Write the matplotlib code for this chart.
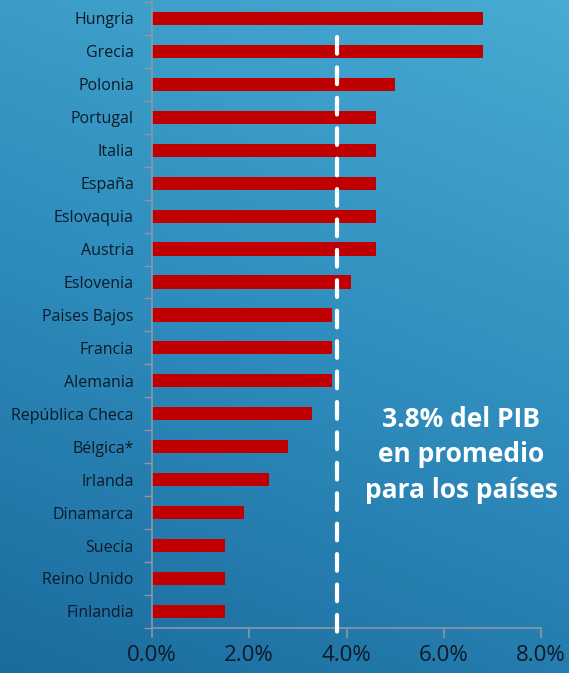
import numpy as np
import matplotlib.pyplot as plt
from matplotlib.colors import LinearSegmentedColormap

paises = ["Hungria", "Grecia", "Polonia", "Portugal", "Italia", "España",
          "Eslovaquia", "Austria", "Eslovenia", "Paises Bajos", "Francia",
          "Alemania", "República Checa", "Bélgica*", "Irlanda", "Dinamarca",
          "Suecia", "Reino Unido", "Finlandia"]
valores = [6.8, 6.8, 5.0, 4.6, 4.6, 4.6, 4.6, 4.6, 4.1, 3.7, 3.7, 3.7,
           3.3, 2.8, 2.4, 1.9, 1.5, 1.5, 1.5]
promedio = 3.8
xticks = [0, 2, 4, 6, 8]

plt.rcParams['font.family'] = ['Open Sans', 'DejaVu Sans']

fig = plt.figure(figsize=(5.69, 6.73), dpi=100)

# background gradient
bg = fig.add_axes([0, 0, 1, 1], zorder=-1)
yy, xx = np.mgrid[0:1:200j, 0:1:200j]
g = 0.75 * yy + 0.25 * xx
cmap = LinearSegmentedColormap.from_list("bg", ["#1b6b9e", "#2f8dbd", "#47abd2"])
bg.imshow(g, cmap=cmap, origin='lower', extent=[0, 1, 0, 1], aspect='auto')
bg.axis('off')

ax = fig.add_axes([0.267, 0.067, 0.684, 0.930])
ax.patch.set_alpha(0)
y = np.arange(len(paises))
ax.barh(y, valores, height=0.4, color="#c00000")
ax.set_ylim(len(paises) - 0.5, -0.5)
ax.set_xlim(0, 8)

ax.plot([promedio, promedio], [0.55, 18.66], color='white', lw=3,
        dashes=(4, 3.3), solid_capstyle='round', dash_capstyle='round',
        clip_on=False, zorder=5)

ax.set_yticks(y)
ax.set_yticklabels(paises, fontsize=11.5, color="#0d1b26")
ax.set_yticks(np.arange(-0.5, len(paises), 1), minor=True)
ax.tick_params(axis='y', which='major', length=0, pad=13)
ax.tick_params(axis='y', which='minor', length=6, color="#8a98a4", width=1)

ax.set_xticks(xticks)
ax.set_xticklabels([f"{v:.1f}%" for v in xticks], fontsize=16, color="#0d1b26")
ax.tick_params(axis='x', length=7, color="#8a98a4", width=1.2, pad=5)

for s in ['top', 'right']:
    ax.spines[s].set_visible(False)
for s in ['left', 'bottom']:
    ax.spines[s].set_color("#8a98a4")
    ax.spines[s].set_linewidth(1.2)

ax.text(6.36, 13.25, "3.8% del PIB\nen promedio\npara los países", color='white',
        fontsize=19, fontweight='bold', ha='center', va='center', linespacing=1.4)

fig.savefig("out.png", dpi=100)
